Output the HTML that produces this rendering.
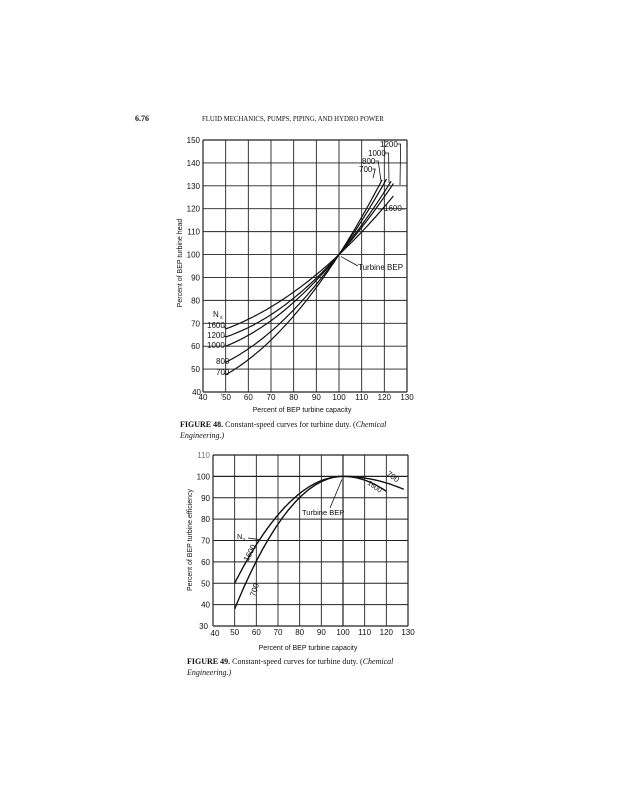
<!DOCTYPE html>
<html><head><meta charset="utf-8"><style>
body{margin:0;background:#fff;}
svg{display:block}
text{font-family:"Liberation Sans",sans-serif;fill:#111}
.s{font-family:"Liberation Serif",serif}
</style></head><body>
<svg id="s" width="617" height="800" viewBox="0 0 617 800" xmlns="http://www.w3.org/2000/svg">
<text x="135" y="121" class="s" font-size="8" font-weight="bold">6.76</text>
<text x="202" y="121" class="s" font-size="6.8">FLUID MECHANICS, PUMPS, PIPING, AND HYDRO POWER</text>
<g id="top"></g>
<g id="bot"></g>
<text x="182" y="263" font-size="7" text-anchor="middle" transform="rotate(-90 182 263)">Percent of BEP turbine head</text>
<text x="302" y="412" font-size="7" text-anchor="middle">Percent of BEP turbine capacity</text>
<text x="180" y="427" class="s" font-size="8"><tspan font-weight="bold">FIGURE 48.</tspan> Constant-speed curves for turbine duty. (<tspan font-style="italic">Chemical</tspan></text>
<text x="180" y="438" class="s" font-size="8" font-style="italic">Engineering.)</text>
<text x="192" y="540" font-size="7" text-anchor="middle" transform="rotate(-90 192 540)">Percent of BEP turbine efficiency</text>
<text x="308" y="650" font-size="7" text-anchor="middle">Percent of BEP turbine capacity</text>
<text x="187" y="664" class="s" font-size="8"><tspan font-weight="bold">FIGURE 49.</tspan> Constant-speed curves for turbine duty. (<tspan font-style="italic">Chemical</tspan></text>
<text x="187" y="675" class="s" font-size="8" font-style="italic">Engineering.)</text>
</svg>
<script>
var NS="http://www.w3.org/2000/svg";
function el(p,n,a,t){var e=document.createElementNS(NS,n);for(var k in a)e.setAttribute(k,a[k]);if(t!==undefined)e.textContent=t;p.appendChild(e);return e;}
// top chart
var T=document.getElementById('top');
var tx=function(q){return 203+(q-40)*204/90;}, ty=function(h){return 140+(150-h)*252/110;};
for(var q=40;q<=130;q+=10){el(T,'line',{x1:tx(q),x2:tx(q),y1:140,y2:392,stroke:'#222','stroke-width':q==40||q==130?1.2:0.9});
 el(T,'text',{x:tx(q),y:400,'font-size':8,'text-anchor':'middle'},q==50?'ʼ50':String(q));}
for(var h=40;h<=150;h+=10){el(T,'line',{x1:203,x2:407,y1:ty(h),y2:ty(h),stroke:'#222','stroke-width':h==40||h==150?1.2:0.9});
 el(T,'text',{x:h==40?201:200,y:ty(h)+3,'font-size':8,'text-anchor':'end'},String(h));}
var tc=[[1.534,0.00968,119.4],[1.385,0.00889,121],[1.205,0.0081,123],[1.106,0.00773,124],[0.93,0.0056,124.7]];
tc.forEach(function(c){var d='';for(var q=50;q<=c[2]+0.01;q+=1){var x=q-100,hh=100+c[0]*x+c[1]*x*x;d+=(q==50?'M':'L')+tx(q).toFixed(1)+' '+ty(hh).toFixed(1);}
 el(T,'path',{d:d,fill:'none',stroke:'#111','stroke-width':1.2});});
[['N',317],['1600',328],['1200',338],['1000',348],['800',364],['700',375]].forEach(function(l,i){
 el(T,'text',{x:i==0?213:(l[0].length==3?216:207),y:l[1],'font-size':8},l[0]);});
el(T,'text',{x:220,y:319,'font-size':5},'s');
// leaders left
[[328,67.5],[338,64],[348,60],[364,53],[375,47.5]].forEach(function(p){el(T,'line',{x1:224,y1:p[0]-2,x2:tx(50),y2:ty(p[1]),stroke:'#111','stroke-width':0.8});});
el(T,'text',{x:358,y:270,'font-size':8},'Turbine BEP');
el(T,'line',{x1:358,y1:266,x2:tx(100)+2,y2:ty(100)+2,stroke:'#111','stroke-width':0.8});
el(T,'text',{x:384,y:211,'font-size':8},'1600');
el(T,'line',{x1:378,y1:209,x2:384,y2:209,stroke:'#111','stroke-width':0.8});
el(T,'line',{x1:401,y1:209,x2:405,y2:209,stroke:'#111','stroke-width':0.8});
[['1200',380,147,400,185],['1000',368,156,389,183],['800',362,164,381,181],['700',359,172,373,178]].forEach(function(l){
 el(T,'text',{x:l[1],y:l[2],'font-size':8},l[0]);
 var w=l[0].length*4.4;el(T,'path',{d:'M'+(l[1]+w)+' '+(l[2]-3)+' h3 L'+l[3]+' '+l[4],fill:'none',stroke:'#111','stroke-width':0.8});});
// bottom chart
var B=document.getElementById('bot');
var bx=function(q){return 213+(q-40)*195/90;}, by=function(e){return 455+(110-e)*171/80;};
for(var q=40;q<=130;q+=10){el(B,'line',{x1:bx(q),x2:bx(q),y1:455,y2:626,stroke:'#222','stroke-width':q==40||q==130||q==100?1.2:0.9});
 if(q>40)el(B,'text',{x:bx(q),y:635,'font-size':8,'text-anchor':'middle'},String(q));}
el(B,'text',{x:215,y:636,'font-size':8,'text-anchor':'middle'},'40');
for(var e=30;e<=110;e+=10){el(B,'line',{x1:213,x2:408,y1:by(e),y2:by(e),stroke:'#222','stroke-width':e==30||e==110||e==100?1.2:0.9});
 el(B,'text',{x:e==30?208:210,y:by(e)+3,'font-size':8,'text-anchor':'end',opacity:e==110?0.6:1},String(e));}
function eff(cl,cr,q1,e0){var d='';for(var q=50;q<=q1+0.01;q+=1){var x=q-100,v=x<0?100-cl*x*x:100-cr*x*x;d+=(q==50?'M':'L')+bx(q).toFixed(1)+' '+by(v).toFixed(1);}
 el(B,'path',{d:d,fill:'none',stroke:'#111','stroke-width':1.4});}
eff(0.02,0.0175,120);eff(0.0248,0.0077,128);
el(B,'text',{x:302,y:515,'font-size':7.5},'Turbine BEP');
el(B,'line',{x1:330,y1:508,x2:bx(100)-1,y2:by(100)+3,stroke:'#111','stroke-width':0.8});
el(B,'text',{x:0,y:0,'font-size':8,transform:'translate(386,475) rotate(35)'},'700');
el(B,'text',{x:0,y:0,'font-size':7,transform:'translate(367,484) rotate(35)'},'1600');
el(B,'text',{x:237,y:539,'font-size':7.5},'N');
el(B,'text',{x:243,y:541,'font-size':5},'s');
el(B,'line',{x1:248,y1:538,x2:259,y2:by(70)-1,stroke:'#111','stroke-width':0.8});
el(B,'text',{x:0,y:0,'font-size':8,transform:'translate(248,562) rotate(-62)'},'1600');
el(B,'text',{x:0,y:0,'font-size':8,transform:'translate(255,597) rotate(-72)'},'700');
</script>
</body></html>
